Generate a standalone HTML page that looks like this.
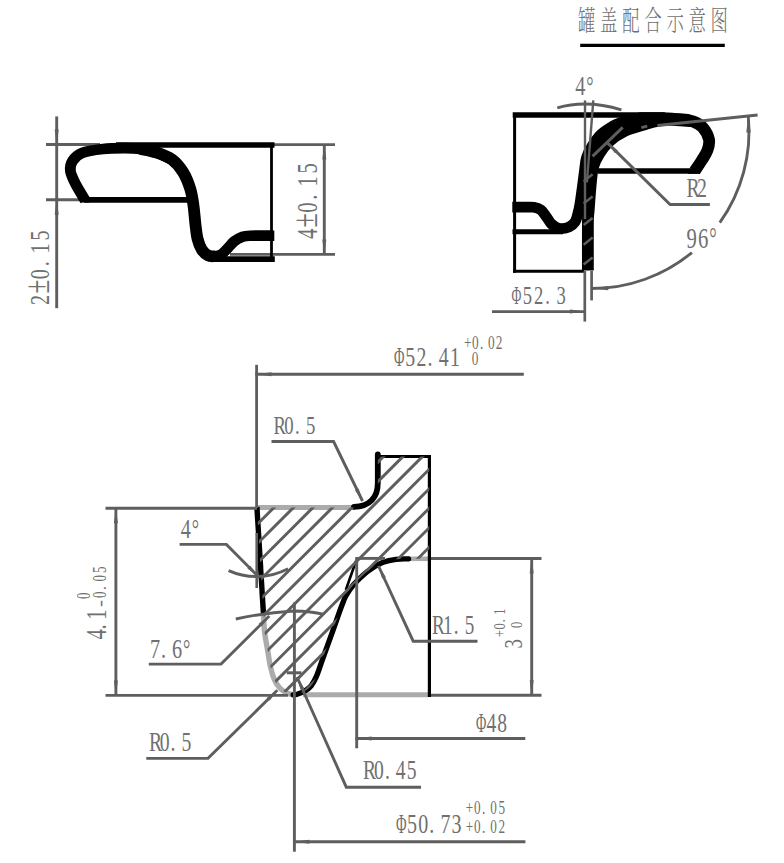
<!DOCTYPE html>
<html><head><meta charset="utf-8"><title>罐盖配合示意图</title>
<style>html,body{margin:0;padding:0;background:#fff}svg{display:block}</style>
</head><body>
<svg width="784" height="863" viewBox="0 0 784 863">
<rect width="784" height="863" fill="#fff"/>
<g transform="translate(578,30.5)" fill="#707070" font-family="'Noto Serif CJK SC','Noto Sans CJK SC',serif" font-size="28" font-weight="300">
<text transform="translate(0.0,0) scale(0.62,1)">罐</text>
<text transform="translate(22.1,0) scale(0.62,1)">盖</text>
<text transform="translate(44.2,0) scale(0.62,1)">配</text>
<text transform="translate(66.3,0) scale(0.62,1)">合</text>
<text transform="translate(88.4,0) scale(0.62,1)">示</text>
<text transform="translate(110.5,0) scale(0.62,1)">意</text>
<text transform="translate(132.6,0) scale(0.62,1)">图</text>
</g>
<line x1="580.2" y1="45.3" x2="724.8" y2="45.3" stroke="#000" stroke-width="3.3" stroke-linecap="butt"/>
<line x1="56.7" y1="116.4" x2="56.7" y2="308.2" stroke="#5e5e5e" stroke-width="2.9" stroke-linecap="butt"/>
<line x1="46.0" y1="144.5" x2="100.0" y2="144.5" stroke="#5e5e5e" stroke-width="2.9" stroke-linecap="butt"/>
<line x1="46.0" y1="199.7" x2="90.0" y2="199.7" stroke="#5e5e5e" stroke-width="2.9" stroke-linecap="butt"/>
<line x1="230.0" y1="254.4" x2="335.0" y2="254.4" stroke="#5e5e5e" stroke-width="2.9" stroke-linecap="butt"/>
<line x1="273.0" y1="144.6" x2="335.0" y2="144.6" stroke="#5e5e5e" stroke-width="2.9" stroke-linecap="butt"/>
<line x1="324.3" y1="144.6" x2="324.3" y2="254.4" stroke="#5e5e5e" stroke-width="2.9" stroke-linecap="butt"/>
<line x1="116.0" y1="145.0" x2="274.5" y2="145.0" stroke="#000" stroke-width="5.7" stroke-linecap="butt"/>
<line x1="271.5" y1="145.0" x2="271.5" y2="261.0" stroke="#000" stroke-width="2.8" stroke-linecap="butt"/>
<line x1="84.0" y1="199.8" x2="190.0" y2="199.8" stroke="#000" stroke-width="5.7" stroke-linecap="butt"/>
<line x1="211.0" y1="259.1" x2="274.8" y2="259.1" stroke="#000" stroke-width="5.6" stroke-linecap="butt"/>
<path d="M85.3,200.5 C83.7,197.8 78.1,188.9 75.6,184.0 C73.1,179.1 70.9,174.8 70.4,171.0 C69.9,167.2 70.6,164.0 72.5,161.0 C74.4,158.0 76.9,155.0 82.0,153.0 C87.1,151.0 96.0,149.8 103.0,149.0 C110.0,148.2 117.8,148.2 124.0,148.2 C130.2,148.2 134.5,148.2 140.0,149.0 C145.5,149.8 151.7,151.2 157.0,153.0 C162.3,154.8 169.5,158.4 172.0,159.5" fill="none" stroke="#000" stroke-width="10.8" stroke-linecap="butt" stroke-linejoin="round"/>
<path d="M140.0,148.8 C142.8,149.4 151.7,150.8 157.0,152.6 C162.3,154.4 167.7,156.3 172.0,159.5 C176.3,162.7 179.9,167.1 183.0,172.0 C186.1,176.9 188.6,183.5 190.3,189.0 C192.0,194.5 192.5,198.9 193.4,205.0 C194.3,211.1 194.9,220.0 195.6,225.7 C196.3,231.4 196.6,235.0 197.6,239.0 C198.6,243.0 200.1,246.9 201.8,249.6 C203.5,252.3 206.0,254.3 208.0,255.4 C210.0,256.5 213.0,256.2 214.0,256.4" fill="none" stroke="#000" stroke-width="11.8" stroke-linecap="butt" stroke-linejoin="round"/>
<path d="M81.3,202.6 L89.6,202.6 L89.3,197 L79,190 Z" fill="#000"/>
<path d="M214.0,256.6 C215.2,256.2 218.8,255.8 221.0,254.5 C223.2,253.2 224.8,251.2 227.0,249.0 C229.2,246.8 231.5,243.5 234.0,241.5 C236.5,239.5 239.3,238.0 242.0,237.0 C244.7,236.0 244.6,235.9 250.0,235.7 C255.4,235.5 270.2,235.7 274.3,235.7" fill="none" stroke="#000" stroke-width="10.6" stroke-linecap="butt" stroke-linejoin="round"/>
<g transform="translate(49.2,305.0) rotate(-90)" fill="#707070" font-family="'Liberation Serif','Noto Serif CJK SC',serif" font-size="28.1">
<text transform="translate(0.0,0) scale(0.720,1.00)">2</text>
<text transform="translate(11.4,0) scale(0.900,1.25)">±</text>
<text transform="translate(25.8,0) scale(0.720,1.00)">0</text>
<text transform="translate(38.7,0) scale(0.720,1.00)">.</text>
<text transform="translate(51.6,0) scale(0.720,1.00)">1</text>
<text transform="translate(64.5,0) scale(0.720,1.00)">5</text>
</g>
<g transform="translate(317.2,239.0) rotate(-90)" fill="#707070" font-family="'Liberation Serif','Noto Serif CJK SC',serif" font-size="28.8">
<text transform="translate(0.0,0) scale(0.720,1.00)">4</text>
<text transform="translate(11.5,0) scale(0.900,1.25)">±</text>
<text transform="translate(26.2,0) scale(0.720,1.00)">0</text>
<text transform="translate(39.3,0) scale(0.720,1.00)">.</text>
<text transform="translate(52.4,0) scale(0.720,1.00)">1</text>
<text transform="translate(65.5,0) scale(0.720,1.00)">5</text>
</g>
<line x1="512.7" y1="115.0" x2="665.0" y2="115.0" stroke="#000" stroke-width="5.7" stroke-linecap="butt"/>
<line x1="514.6" y1="113.0" x2="514.6" y2="272.7" stroke="#000" stroke-width="3.0" stroke-linecap="butt"/>
<line x1="513.0" y1="271.3" x2="584.0" y2="271.3" stroke="#000" stroke-width="3.0" stroke-linecap="butt"/>
<line x1="512.5" y1="231.7" x2="563.0" y2="231.7" stroke="#000" stroke-width="5.0" stroke-linecap="butt"/>
<line x1="598.0" y1="171.0" x2="700.0" y2="171.0" stroke="#000" stroke-width="5.7" stroke-linecap="butt"/>
<path d="M512.3,207.1 C514.6,207.1 522.4,207.1 526.0,207.1 C529.6,207.1 531.5,206.8 534.0,207.3 C536.5,207.8 538.9,208.4 541.0,210.0 C543.1,211.6 544.8,214.8 546.5,217.0 C548.2,219.2 549.4,221.8 551.0,223.5 C552.6,225.2 554.2,226.5 556.0,227.3 C557.8,228.2 559.3,228.7 561.5,228.6 C563.7,228.5 566.8,228.1 569.0,227.0 C571.2,225.9 573.5,224.2 575.0,222.0 C576.5,219.8 577.0,216.9 577.8,214.0 C578.6,211.1 579.2,208.6 579.9,204.4 C580.6,200.2 581.3,194.6 582.1,189.0 C582.9,183.4 583.8,176.1 584.5,170.8 C585.2,165.6 585.3,161.6 586.6,157.5 C587.9,153.4 589.8,149.8 592.2,146.0 C594.6,142.2 597.4,138.0 600.8,134.7 C604.2,131.4 609.1,128.4 612.5,126.4 C615.9,124.4 616.4,123.9 621.0,122.6 C625.6,121.3 636.8,119.2 640.0,118.5" fill="none" stroke="#000" stroke-width="10.8" stroke-linecap="butt" stroke-linejoin="round"/>
<path d="M587.9,270.6 C587.9,262.7 587.8,233.1 587.9,223.0 C588.0,212.9 588.2,217.0 588.7,210.0 C589.2,203.0 590.2,188.3 591.0,181.0 C591.8,173.7 591.9,170.8 593.2,166.3 C594.5,161.8 596.4,158.0 599.0,153.8 C601.6,149.6 604.8,145.1 609.0,141.3 C613.2,137.5 619.0,133.7 624.5,131.0 C630.0,128.3 636.3,126.9 642.0,125.2 C647.7,123.5 652.2,121.6 658.5,120.6 C664.8,119.6 674.2,119.0 680.0,119.2 C685.8,119.4 689.7,120.2 693.5,121.6 C697.3,123.0 700.1,124.4 702.7,127.4 C705.3,130.4 708.2,135.7 709.0,139.5 C709.8,143.3 708.6,147.0 707.4,150.4 C706.2,153.8 704.1,156.6 702.0,160.0 C699.9,163.4 695.9,169.2 694.7,171.0" fill="none" stroke="#000" stroke-width="11.8" stroke-linecap="butt" stroke-linejoin="round"/>
<path d="M690,168.2 L699.5,173.8 L688,173.8 Z" fill="#000"/>
<path d="M600,134 L618,118 L640,112.15 L661.9,112.15 Q674,112.4 681,114 Q690,116 697,119 L690,127 L662,125 L640,129 Z" fill="#000"/>
<line x1="583.6" y1="181.4" x2="592.6" y2="174.2" stroke="#5e5e5e" stroke-width="2.5" stroke-linecap="butt"/>
<line x1="583.6" y1="203.6" x2="592.6" y2="196.4" stroke="#5e5e5e" stroke-width="2.5" stroke-linecap="butt"/>
<line x1="583.6" y1="225.1" x2="592.6" y2="217.9" stroke="#5e5e5e" stroke-width="2.5" stroke-linecap="butt"/>
<line x1="583.6" y1="244.8" x2="592.6" y2="237.6" stroke="#5e5e5e" stroke-width="2.5" stroke-linecap="butt"/>
<line x1="583.6" y1="264.6" x2="592.6" y2="257.4" stroke="#5e5e5e" stroke-width="2.5" stroke-linecap="butt"/>
<line x1="585.0" y1="100.4" x2="585.0" y2="219.0" stroke="#5e5e5e" stroke-width="2.4" stroke-linecap="butt"/>
<line x1="584.8" y1="271.0" x2="584.8" y2="321.6" stroke="#5e5e5e" stroke-width="2.7" stroke-linecap="butt"/>
<line x1="593.3" y1="100.4" x2="586.9" y2="182.4" stroke="#5e5e5e" stroke-width="2.4" stroke-linecap="butt"/>
<line x1="591.6" y1="271.0" x2="591.6" y2="300.4" stroke="#5e5e5e" stroke-width="2.7" stroke-linecap="butt"/>
<line x1="492.0" y1="311.6" x2="585.0" y2="311.6" stroke="#5e5e5e" stroke-width="2.9" stroke-linecap="butt"/>
<path d="M557.3,107.8 Q587,99.4 621.4,109.8" fill="none" stroke="#5e5e5e" stroke-width="2.9" stroke-linecap="butt" stroke-linejoin="round"/>
<line x1="657.4" y1="125.5" x2="757.6" y2="115.0" stroke="#5e5e5e" stroke-width="2.9" stroke-linecap="butt"/>
<line x1="641.3" y1="127.6" x2="647.2" y2="126.2" stroke="#5e5e5e" stroke-width="2.9" stroke-linecap="butt"/>
<path d="M748.3,116.5 A157,157 0 0 1 719.8,222.7" fill="none" stroke="#5e5e5e" stroke-width="2.9" stroke-linecap="butt" stroke-linejoin="round"/>
<path d="M691.9,252.6 A157,157 0 0 1 592.0,288.5" fill="none" stroke="#5e5e5e" stroke-width="2.9" stroke-linecap="butt" stroke-linejoin="round"/>
<path d="M607.2,142.6 L670.1,204.5 L709.9,204.5" fill="none" stroke="#5e5e5e" stroke-width="2.9" stroke-linecap="butt" stroke-linejoin="miter"/>
<line x1="592.5" y1="156.4" x2="622.7" y2="127.4" stroke="#5e5e5e" stroke-width="2.9" stroke-linecap="butt"/>
<g transform="translate(575.3,94.7)" fill="#707070" font-family="'Liberation Serif','Noto Serif CJK SC',serif" font-size="28.1">
<text transform="translate(0.0,0) scale(0.720,1.00)">4</text>
<text transform="translate(11.0,0) scale(0.648,1.00)">°</text>
</g>
<g transform="translate(686.5,196.5)" fill="#707070" font-family="'Liberation Serif','Noto Serif CJK SC',serif" font-size="27.4">
<text transform="translate(0.0,0) scale(0.720,1.00)">R</text>
<text transform="translate(10.6,0) scale(0.720,1.00)">2</text>
</g>
<g transform="translate(686.5,248.0)" fill="#707070" font-family="'Liberation Serif','Noto Serif CJK SC',serif" font-size="28.8">
<text transform="translate(0.0,0) scale(0.720,1.00)">9</text>
<text transform="translate(11.4,0) scale(0.720,1.00)">6</text>
<text transform="translate(22.8,0) scale(0.648,1.00)">°</text>
</g>
<g transform="translate(511.5,303.7)" fill="#707070" font-family="'Liberation Serif','Noto Serif CJK SC',serif" font-size="25.9">
<text transform="translate(0.0,0) scale(0.518,1.00)">Φ</text>
<text transform="translate(11.2,0) scale(0.720,1.00)">5</text>
<text transform="translate(22.5,0) scale(0.720,1.00)">2</text>
<text transform="translate(33.8,0) scale(0.720,1.00)">.</text>
<text transform="translate(45.0,0) scale(0.720,1.00)">3</text>
</g>
<line x1="257.4" y1="507.6" x2="355.0" y2="507.6" stroke="#ababab" stroke-width="5.0" stroke-linecap="butt"/>
<line x1="303.0" y1="694.8" x2="428.0" y2="694.8" stroke="#ababab" stroke-width="5.0" stroke-linecap="butt"/>
<line x1="408.0" y1="558.8" x2="428.0" y2="558.8" stroke="#ababab" stroke-width="4.6" stroke-linecap="butt"/>
<path d="M263.4,614.0 C263.6,617.0 263.9,626.0 264.6,632.0 C265.3,638.0 266.6,644.2 267.6,650.0 C268.6,655.8 269.3,661.6 270.4,666.5 C271.5,671.4 272.8,676.0 274.3,679.5 C275.8,683.0 277.6,685.6 279.5,687.7 C281.4,689.8 283.3,691.1 285.5,692.3 C287.7,693.5 291.3,694.4 292.5,694.8" fill="none" stroke="#ababab" stroke-width="5.4" stroke-linecap="butt" stroke-linejoin="round"/>
<line x1="377.4" y1="456.5" x2="430.8" y2="456.5" stroke="#000" stroke-width="3.0" stroke-linecap="butt"/>
<line x1="429.4" y1="455.0" x2="429.4" y2="697.0" stroke="#000" stroke-width="3.2" stroke-linecap="butt"/>
<path d="M377.8,454.5 L377.8,483 C377.8,497.5 369.5,506.8 354,506.8" fill="none" stroke="#000" stroke-width="5.8" stroke-linecap="round" stroke-linejoin="round"/>
<line x1="256.9" y1="507.0" x2="263.5" y2="614.5" stroke="#000" stroke-width="5.4" stroke-linecap="butt"/>
<path d="M408.5,558.9 C406.4,559.0 400.2,558.7 396.0,559.3 C391.8,559.9 387.2,560.8 383.2,562.3 C379.2,563.8 375.5,566.1 372.1,568.3 C368.7,570.5 365.9,572.6 362.8,575.4 C359.7,578.1 356.3,581.4 353.5,584.8 C350.7,588.1 348.0,592.1 346.1,595.5 C344.2,598.9 344.0,599.8 341.9,605.3 C339.8,610.8 336.1,621.5 333.7,628.3 C331.3,635.1 329.3,640.6 327.3,646.1 C325.3,651.6 323.6,656.3 321.8,661.4 C320.0,666.5 318.1,672.7 316.3,676.7 C314.5,680.8 313.1,683.3 311.2,685.7 C309.3,688.1 307.1,689.6 304.8,691.0 C302.5,692.4 299.1,693.6 297.2,694.2 C295.3,694.8 293.9,694.7 293.2,694.8" fill="none" stroke="#000" stroke-width="5.4" stroke-linecap="round" stroke-linejoin="round"/>
<line x1="356.0" y1="561.0" x2="345.8" y2="590.0" stroke="#000" stroke-width="2.6" stroke-linecap="butt"/>
<clipPath id="hc"><path d="M256.8,507.5 L354,507.5 C369.5,506.8 377.8,497.5 377.8,483 L377.8,456.5 L429.3,456.5 L429.3,558.8 L408.8,558.8 L408.5,558.9 C406.4,559.0 400.2,558.7 396.0,559.3 C391.8,559.9 387.2,560.8 383.2,562.3 C379.2,563.8 375.5,566.1 372.1,568.3 C368.7,570.5 365.9,572.6 362.8,575.4 C359.7,578.1 356.3,581.4 353.5,584.8 C350.7,588.1 348.0,592.1 346.1,595.5 C344.2,598.9 344.0,599.8 341.9,605.3 C339.8,610.8 336.1,621.5 333.7,628.3 C331.3,635.1 329.3,640.6 327.3,646.1 C325.3,651.6 323.6,656.3 321.8,661.4 C320.0,666.5 318.1,672.7 316.3,676.7 C314.5,680.8 313.1,683.3 311.2,685.7 C309.3,688.1 307.1,689.6 304.8,691.0 C302.5,692.4 299.1,693.6 297.2,694.2 C295.3,694.8 293.9,694.7 293.2,694.8 L292.5,694.8 C291.3,694.4 287.7,693.5 285.5,692.3 C283.3,691.1 281.4,689.8 279.5,687.7 C277.6,685.6 275.8,683.0 274.3,679.5 C272.8,676.0 271.5,671.4 270.4,666.5 C269.3,661.6 268.6,655.8 267.6,650.0 C266.6,644.2 265.3,638.0 264.6,632.0 C263.9,626.0 263.6,617.0 263.4,614.0 L256.8,507.5 Z"/></clipPath>
<g clip-path="url(#hc)" stroke="#5e5e5e" stroke-width="3">
<line x1="61.5" y1="720" x2="341.5" y2="440"/>
<line x1="81.0" y1="720" x2="361.0" y2="440"/>
<line x1="100.5" y1="720" x2="380.5" y2="440"/>
<line x1="120.0" y1="720" x2="400.0" y2="440"/>
<line x1="139.5" y1="720" x2="419.5" y2="440"/>
<line x1="159.0" y1="720" x2="439.0" y2="440"/>
<line x1="178.5" y1="720" x2="458.5" y2="440"/>
<line x1="198.0" y1="720" x2="478.0" y2="440"/>
<line x1="217.5" y1="720" x2="497.5" y2="440"/>
<line x1="237.0" y1="720" x2="517.0" y2="440"/>
<line x1="256.5" y1="720" x2="536.5" y2="440"/>
<line x1="276.0" y1="720" x2="556.0" y2="440"/>
<line x1="295.5" y1="720" x2="575.5" y2="440"/>
<line x1="315.0" y1="720" x2="595.0" y2="440"/>
</g>
<line x1="256.6" y1="364.8" x2="256.6" y2="508.0" stroke="#5e5e5e" stroke-width="2.8" stroke-linecap="butt"/>
<line x1="256.7" y1="533.0" x2="256.7" y2="588.0" stroke="#5e5e5e" stroke-width="2.6" stroke-linecap="butt"/>
<line x1="255.3" y1="374.3" x2="523.8" y2="374.3" stroke="#5e5e5e" stroke-width="2.9" stroke-linecap="butt"/>
<line x1="105.5" y1="508.2" x2="257.0" y2="508.2" stroke="#5e5e5e" stroke-width="2.9" stroke-linecap="butt"/>
<line x1="105.5" y1="695.4" x2="288.0" y2="695.4" stroke="#5e5e5e" stroke-width="2.9" stroke-linecap="butt"/>
<line x1="115.9" y1="508.2" x2="115.9" y2="695.4" stroke="#5e5e5e" stroke-width="2.9" stroke-linecap="butt"/>
<line x1="356.7" y1="557.5" x2="356.7" y2="748.3" stroke="#5e5e5e" stroke-width="2.9" stroke-linecap="butt"/>
<line x1="355.5" y1="558.4" x2="385.0" y2="558.4" stroke="#5e5e5e" stroke-width="2.9" stroke-linecap="butt"/>
<line x1="355.5" y1="738.5" x2="525.3" y2="738.5" stroke="#5e5e5e" stroke-width="2.9" stroke-linecap="butt"/>
<line x1="294.4" y1="602.5" x2="294.4" y2="851.7" stroke="#5e5e5e" stroke-width="2.9" stroke-linecap="butt"/>
<line x1="293.2" y1="841.8" x2="525.4" y2="841.8" stroke="#5e5e5e" stroke-width="2.9" stroke-linecap="butt"/>
<line x1="431.0" y1="558.5" x2="541.5" y2="558.5" stroke="#5e5e5e" stroke-width="2.9" stroke-linecap="butt"/>
<line x1="431.0" y1="695.3" x2="541.5" y2="695.3" stroke="#5e5e5e" stroke-width="2.9" stroke-linecap="butt"/>
<line x1="531.7" y1="558.5" x2="531.7" y2="695.3" stroke="#5e5e5e" stroke-width="2.9" stroke-linecap="butt"/>
<line x1="286.8" y1="672.8" x2="301.5" y2="672.8" stroke="#5e5e5e" stroke-width="3.0" stroke-linecap="butt"/>
<path d="M271.5,441.5 L333.6,441.5 L362.5,501.0" fill="none" stroke="#5e5e5e" stroke-width="2.9" stroke-linecap="butt" stroke-linejoin="miter"/>
<path d="M179.6,544.4 L226.4,544.4 L258.0,576.3" fill="none" stroke="#5e5e5e" stroke-width="2.9" stroke-linecap="butt" stroke-linejoin="miter"/>
<path d="M148.8,664.1 L221.0,664.1 L269.3,616.0" fill="none" stroke="#5e5e5e" stroke-width="2.9" stroke-linecap="butt" stroke-linejoin="miter"/>
<path d="M146.3,758.4 L208.0,758.4 L277.3,690.2" fill="none" stroke="#5e5e5e" stroke-width="2.9" stroke-linecap="butt" stroke-linejoin="miter"/>
<path d="M297.0,677.0 L346.3,787.2 L421.0,787.2" fill="none" stroke="#5e5e5e" stroke-width="2.9" stroke-linecap="butt" stroke-linejoin="miter"/>
<path d="M378.5,566.0 L413.2,641.2 L477.5,641.2" fill="none" stroke="#5e5e5e" stroke-width="2.9" stroke-linecap="butt" stroke-linejoin="miter"/>
<path d="M228.6,570.6 A68.5,68.5 0 0 0 288.1,568.8" fill="none" stroke="#5e5e5e" stroke-width="2.9" stroke-linecap="butt" stroke-linejoin="round"/>
<path d="M235.8,619 Q265,612.6 293.4,611 Q312,611.4 323,614.2" fill="none" stroke="#5e5e5e" stroke-width="2.9" stroke-linecap="butt" stroke-linejoin="round"/>
<g transform="translate(394.0,365.6)" fill="#707070" font-family="'Liberation Serif','Noto Serif CJK SC',serif" font-size="27.5">
<text transform="translate(0.0,0) scale(0.518,1.00)">Φ</text>
<text transform="translate(11.2,0) scale(0.720,1.00)">5</text>
<text transform="translate(22.4,0) scale(0.720,1.00)">2</text>
<text transform="translate(33.6,0) scale(0.720,1.00)">.</text>
<text transform="translate(44.8,0) scale(0.720,1.00)">4</text>
<text transform="translate(56.0,0) scale(0.720,1.00)">1</text>
</g>
<g transform="translate(464.0,349.0)" fill="#707070" font-family="'Liberation Serif','Noto Serif CJK SC',serif" font-size="18.5">
<text transform="translate(0.0,0) scale(0.720,1.00)">+</text>
<text transform="translate(8.0,0) scale(0.720,1.00)">0</text>
<text transform="translate(15.9,0) scale(0.720,1.00)">.</text>
<text transform="translate(23.9,0) scale(0.720,1.00)">0</text>
<text transform="translate(31.8,0) scale(0.720,1.00)">2</text>
</g>
<g transform="translate(471.8,364.8)" fill="#707070" font-family="'Liberation Serif','Noto Serif CJK SC',serif" font-size="18.5">
<text transform="translate(0.0,0) scale(0.720,1.00)">0</text>
</g>
<g transform="translate(273.5,433.6)" fill="#707070" font-family="'Liberation Serif','Noto Serif CJK SC',serif" font-size="26.0">
<text transform="translate(0.0,0) scale(0.720,1.00)">R</text>
<text transform="translate(10.8,0) scale(0.720,1.00)">0</text>
<text transform="translate(21.6,0) scale(0.720,1.00)">.</text>
<text transform="translate(32.4,0) scale(0.720,1.00)">5</text>
</g>
<g transform="translate(180.8,538.2)" fill="#707070" font-family="'Liberation Serif','Noto Serif CJK SC',serif" font-size="28.1">
<text transform="translate(0.0,0) scale(0.720,1.00)">4</text>
<text transform="translate(11.0,0) scale(0.648,1.00)">°</text>
</g>
<g transform="translate(150.0,658.2)" fill="#707070" font-family="'Liberation Serif','Noto Serif CJK SC',serif" font-size="28.1">
<text transform="translate(0.0,0) scale(0.720,1.00)">7</text>
<text transform="translate(11.0,0) scale(0.720,1.00)">.</text>
<text transform="translate(22.0,0) scale(0.720,1.00)">6</text>
<text transform="translate(33.0,0) scale(0.648,1.00)">°</text>
</g>
<g transform="translate(106.0,639.5) rotate(-90)" fill="#707070" font-family="'Liberation Serif','Noto Serif CJK SC',serif" font-size="28.6">
<text transform="translate(0.0,0) scale(0.720,1.00)">4</text>
<text transform="translate(9.9,0) scale(0.720,1.00)">.</text>
<text transform="translate(19.8,0) scale(0.720,1.00)">1</text>
</g>
<g transform="translate(106.0,606.3) rotate(-90)" fill="#707070" font-family="'Liberation Serif','Noto Serif CJK SC',serif" font-size="18.2">
<text transform="translate(-0.8,0) scale(1.152,1.00)">-</text>
<text transform="translate(8.3,0) scale(0.720,1.00)">0</text>
<text transform="translate(16.6,0) scale(0.720,1.00)">.</text>
<text transform="translate(24.9,0) scale(0.720,1.00)">0</text>
<text transform="translate(33.2,0) scale(0.720,1.00)">5</text>
</g>
<g transform="translate(90.0,599.0) rotate(-90)" fill="#707070" font-family="'Liberation Serif','Noto Serif CJK SC',serif" font-size="18.2">
<text transform="translate(0.0,0) scale(0.720,1.00)">0</text>
</g>
<g transform="translate(432.0,634.0)" fill="#707070" font-family="'Liberation Serif','Noto Serif CJK SC',serif" font-size="26.6">
<text transform="translate(0.0,0) scale(0.720,1.00)">R</text>
<text transform="translate(10.9,0) scale(0.720,1.00)">1</text>
<text transform="translate(21.8,0) scale(0.720,1.00)">.</text>
<text transform="translate(32.7,0) scale(0.720,1.00)">5</text>
</g>
<g transform="translate(521.8,648.5) rotate(-90)" fill="#707070" font-family="'Liberation Serif','Noto Serif CJK SC',serif" font-size="26.0">
<text transform="translate(0.0,0) scale(0.720,1.00)">3</text>
</g>
<g transform="translate(504.7,637.0) rotate(-90)" fill="#707070" font-family="'Liberation Serif','Noto Serif CJK SC',serif" font-size="17.3">
<text transform="translate(0.0,0) scale(0.720,1.00)">+</text>
<text transform="translate(7.4,0) scale(0.720,1.00)">0</text>
<text transform="translate(14.8,0) scale(0.720,1.00)">.</text>
<text transform="translate(22.2,0) scale(0.720,1.00)">1</text>
</g>
<g transform="translate(521.8,628.0) rotate(-90)" fill="#707070" font-family="'Liberation Serif','Noto Serif CJK SC',serif" font-size="17.3">
<text transform="translate(0.0,0) scale(0.720,1.00)">0</text>
</g>
<g transform="translate(476.0,731.7)" fill="#707070" font-family="'Liberation Serif','Noto Serif CJK SC',serif" font-size="27.1">
<text transform="translate(0.0,0) scale(0.518,1.00)">Φ</text>
<text transform="translate(10.6,0) scale(0.720,1.00)">4</text>
<text transform="translate(21.2,0) scale(0.720,1.00)">8</text>
</g>
<g transform="translate(363.0,779.4)" fill="#707070" font-family="'Liberation Serif','Noto Serif CJK SC',serif" font-size="27.2">
<text transform="translate(0.0,0) scale(0.720,1.00)">R</text>
<text transform="translate(10.9,0) scale(0.720,1.00)">0</text>
<text transform="translate(21.9,0) scale(0.720,1.00)">.</text>
<text transform="translate(32.8,0) scale(0.720,1.00)">4</text>
<text transform="translate(43.8,0) scale(0.720,1.00)">5</text>
</g>
<g transform="translate(149.0,750.8)" fill="#707070" font-family="'Liberation Serif','Noto Serif CJK SC',serif" font-size="27.4">
<text transform="translate(0.0,0) scale(0.720,1.00)">R</text>
<text transform="translate(10.8,0) scale(0.720,1.00)">0</text>
<text transform="translate(21.6,0) scale(0.720,1.00)">.</text>
<text transform="translate(32.4,0) scale(0.720,1.00)">5</text>
</g>
<g transform="translate(396.0,833.0)" fill="#707070" font-family="'Liberation Serif','Noto Serif CJK SC',serif" font-size="27.8">
<text transform="translate(0.0,0) scale(0.518,1.00)">Φ</text>
<text transform="translate(11.1,0) scale(0.720,1.00)">5</text>
<text transform="translate(22.2,0) scale(0.720,1.00)">0</text>
<text transform="translate(33.3,0) scale(0.720,1.00)">.</text>
<text transform="translate(44.4,0) scale(0.720,1.00)">7</text>
<text transform="translate(55.5,0) scale(0.720,1.00)">3</text>
</g>
<g transform="translate(465.7,814.4)" fill="#707070" font-family="'Liberation Serif','Noto Serif CJK SC',serif" font-size="18.3">
<text transform="translate(0.0,0) scale(0.720,1.00)">+</text>
<text transform="translate(8.2,0) scale(0.720,1.00)">0</text>
<text transform="translate(16.4,0) scale(0.720,1.00)">.</text>
<text transform="translate(24.6,0) scale(0.720,1.00)">0</text>
<text transform="translate(32.8,0) scale(0.720,1.00)">5</text>
</g>
<g transform="translate(465.7,833.2)" fill="#707070" font-family="'Liberation Serif','Noto Serif CJK SC',serif" font-size="18.3">
<text transform="translate(0.0,0) scale(0.720,1.00)">+</text>
<text transform="translate(8.2,0) scale(0.720,1.00)">0</text>
<text transform="translate(16.4,0) scale(0.720,1.00)">.</text>
<text transform="translate(24.6,0) scale(0.720,1.00)">0</text>
<text transform="translate(32.8,0) scale(0.720,1.00)">2</text>
</g>
<path d="M115.9,508.2 L113.9,523.2 L117.9,523.2 Z" fill="#5e5e5e"/>
<path d="M115.9,695.4 L117.9,680.4 L113.9,680.4 Z" fill="#5e5e5e"/>
<path d="M531.7,558.5 L529.7,573.5 L533.7,573.5 Z" fill="#5e5e5e"/>
<path d="M531.7,695.3 L533.7,680.3 L529.7,680.3 Z" fill="#5e5e5e"/>
<path d="M324.3,144.6 L322.3,159.6 L326.3,159.6 Z" fill="#5e5e5e"/>
<path d="M324.3,254.4 L326.3,239.4 L322.3,239.4 Z" fill="#5e5e5e"/>
<path d="M56.7,144.5 L58.7,129.5 L54.7,129.5 Z" fill="#5e5e5e"/>
<path d="M56.7,199.7 L54.7,214.7 L58.7,214.7 Z" fill="#5e5e5e"/>
<path d="M256.5,374.3 L271.5,376.3 L271.5,372.3 Z" fill="#5e5e5e"/>
<path d="M356.7,738.5 L371.7,740.5 L371.7,736.5 Z" fill="#5e5e5e"/>
<path d="M294.4,841.8 L309.4,843.8 L309.4,839.8 Z" fill="#5e5e5e"/>
<path d="M585.0,311.6 L570.0,309.6 L570.0,313.6 Z" fill="#5e5e5e"/>
<path d="M607.2,142.6 L615.0,153.2 L617.8,150.4 Z" fill="#5e5e5e"/>
<path d="M362.5,501.0 L358.6,488.4 L355.0,490.2 Z" fill="#5e5e5e"/>
<path d="M258.0,576.3 L250.3,565.7 L247.4,568.5 Z" fill="#5e5e5e"/>
<path d="M269.3,616.0 L258.7,623.8 L261.5,626.6 Z" fill="#5e5e5e"/>
<path d="M277.3,690.2 L266.7,698.0 L269.5,700.8 Z" fill="#5e5e5e"/>
<path d="M297.0,677.0 L300.5,689.7 L304.1,688.0 Z" fill="#5e5e5e"/>
<path d="M378.5,566.0 L382.1,578.6 L385.8,577.0 Z" fill="#5e5e5e"/>
<path d="M592.2,288.6 L608.3,290.3 L608.1,285.9 Z" fill="#5e5e5e"/>
<path d="M748.2,116.5 L746.3,132.5 L750.7,132.5 Z" fill="#5e5e5e"/>
</svg>
</body></html>
